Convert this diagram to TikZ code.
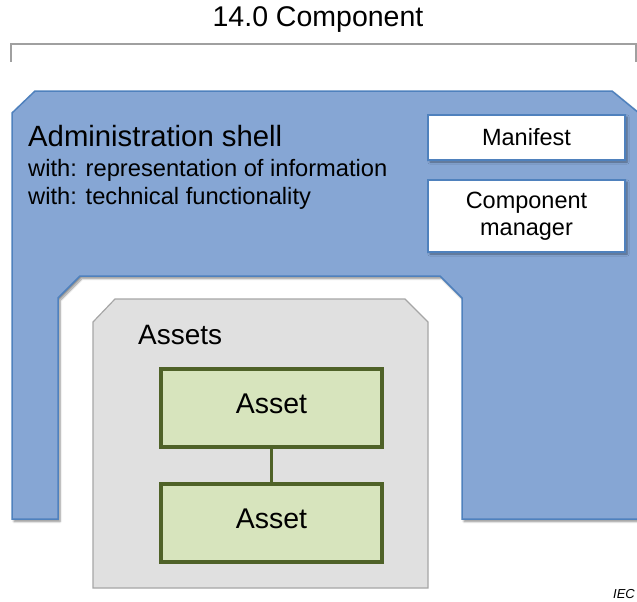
\documentclass[tikz,border=0pt]{standalone}
\usepackage{fontspec}
\setmainfont{Liberation Sans}
\usetikzlibrary{shadows.blur}
\definecolor{shellfill}{RGB}{134,166,212}
\definecolor{shelldraw}{RGB}{79,129,189}
\definecolor{assetsfill}{RGB}{224,224,224}
\definecolor{assetsdraw}{RGB}{166,166,166}
\definecolor{assetfill}{RGB}{215,228,189}
\definecolor{assetdraw}{RGB}{79,98,40}
\definecolor{bracketgray}{RGB}{160,160,160}
\tikzset{
  fs/.style={font=\fontsize{#1pt}{\dimexpr#1pt*6/5\relax}\selectfont},
  shellshape/.style={fill=shellfill, draw=shelldraw, line width=1.5pt, line join=miter,
    blur shadow={shadow xshift=2pt, shadow yshift=-2.5pt, shadow blur steps=6, shadow opacity=45}},
  whitebox/.style={draw=shelldraw, fill=white, line width=2pt, minimum width=197pt,
    align=center, inner sep=0pt, fs=23.5,
    blur shadow={shadow xshift=2pt, shadow yshift=-2pt, shadow blur steps=5, shadow opacity=40}},
  assetsshape/.style={fill=assetsfill, draw=assetsdraw, line width=1.2pt},
  assetbox/.style={draw=assetdraw, fill=assetfill, line width=3.5pt, minimum width=221pt,
    minimum height=78pt, inner sep=0pt, fs=28.5, text depth=9pt},
  assetlink/.style={draw=assetdraw, line width=3.5pt},
  bracket/.style={draw=bracketgray, line width=1.5pt},
}
\begin{document}
\begin{tikzpicture}[x=1pt,y=-1pt]
\useasboundingbox (0,0) rectangle (637,602);
% title and bracket
\node[fs=28.5] (title) at (318,20) {14.0 Component};
\coordinate (bl) at (11,62);
\coordinate (br) at (636,62);
\draw[bracket] (bl) -- (11,44) -- (636,44) -- (br);
% administration shell
\path[shellshape] (12,113) -- (35,91) -- (612,91) -- (645,118) -- (645,519) -- (462,519)
  -- (462,298) -- (440,276) -- (80,276) -- (58,298) -- (58,519) -- (12,519) -- cycle;
\node[anchor=base west, fs=29.3, inner sep=0pt] (shell) at (28,146) {Administration shell};
\node[anchor=base west, fs=23.7, inner sep=0pt] (with1) at (28,176) {with: representation of information};
\node[anchor=base west, fs=23.7, inner sep=0pt] (with2) at (28,204) {with: technical functionality};
\node[whitebox, minimum height=45pt] (manifest) at (526.5,137.5) {Manifest};
\node[whitebox, minimum height=72pt] (cmgr) at (526.5,216) {Component\\[-1pt]manager};
% assets
\path[assetsshape] (93,322) -- (115,299) -- (405,299) -- (428,322) -- (428,588) -- (93,588) -- cycle;
\node[anchor=base west, fs=28, inner sep=0pt] (assets) at (138,344) {Assets};
\node[assetbox] (asset1) at (271.5,408) {Asset};
\node[assetbox] (asset2) at (271.5,523) {Asset};
\draw[assetlink] (asset1.south) -- (asset2.north);
% IEC mark
\node[anchor=base west, inner sep=0pt, font=\fontsize{13pt}{15pt}\selectfont\itshape] (iec) at (613,598) {IEC};
\end{tikzpicture}
\end{document}
